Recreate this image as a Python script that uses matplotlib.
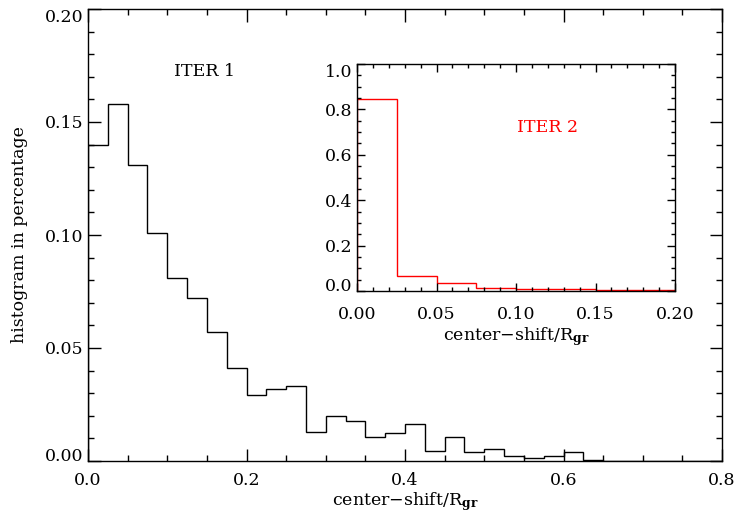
import numpy as np
import matplotlib
matplotlib.use("Agg")
import matplotlib.pyplot as plt
from matplotlib.ticker import MultipleLocator, FormatStrFormatter

plt.rcParams['font.family'] = ['DejaVu Serif']
plt.rcParams['mathtext.fontset'] = 'dejavuserif'

# ---- data ----
bin_width = 0.025
iter1_values = [0.140, 0.158, 0.131, 0.101, 0.081, 0.072, 0.057, 0.041,
                0.029, 0.032, 0.033, 0.013, 0.020, 0.0176, 0.0107, 0.0125,
                0.0163, 0.0046, 0.0107, 0.0038, 0.0053, 0.0022, 0.0013, 0.0022,
                0.0038, 0.0006, 0.0, 0.0, 0.0, 0.0, 0.0, 0.0]
iter2_values = [0.846, 0.068, 0.034, 0.013, 0.010, 0.009, 0.006, 0.004]
main_xticks = [0.0, 0.2, 0.4, 0.6, 0.8]
main_yticks = [0.00, 0.05, 0.10, 0.15, 0.20]
inset_xticks = [0.00, 0.05, 0.10, 0.15, 0.20]
inset_yticks = [0.0, 0.2, 0.4, 0.6, 0.8, 1.0]

edges1 = np.arange(len(iter1_values) + 1) * bin_width
edges2 = np.arange(len(iter2_values) + 1) * bin_width

FS = 12.5
fig = plt.figure(figsize=(7.40, 5.23), dpi=100)

# ---- main axes ----
ax = fig.add_axes([88/740, (523-461)/523, 634/740, 452/523])
ax.stairs(iter1_values, edges1, color='black', lw=1.0, baseline=None)
ax.plot([0, 0], [0, iter1_values[0]], color='black', lw=1.0)
ax.set_xlim(0, 0.8)
ax.set_ylim(0, 0.20)
ax.set_xticks(main_xticks)
ax.set_yticks(main_yticks)
ax.xaxis.set_minor_locator(MultipleLocator(0.05))
ax.yaxis.set_minor_locator(MultipleLocator(0.01))
ax.xaxis.set_major_formatter(FormatStrFormatter('%.1f'))
ax.yaxis.set_major_formatter(FormatStrFormatter('%.2f'))
ax.tick_params(which='both', direction='in', top=True, right=True, width=1.0)
ax.tick_params(which='major', length=9)
ax.tick_params(which='minor', length=4.5)
ax.tick_params(axis='x', which='major', pad=8, labelsize=FS)
ax.tick_params(axis='y', which='major', pad=3.5, labelsize=FS)
for s in ax.spines.values():
    s.set_linewidth(1.0)
ylabs = ax.get_yticklabels()
ylabs[0].set_va('baseline')
ylabs[-1].set_va('top')
ax.set_ylabel('histogram in percentage', fontsize=FS)
ax.yaxis.set_label_coords(-0.094, 0.5)
ax.set_xlabel(r'center$-$shift/R$_{\mathbf{gr}}$', fontsize=FS)
ax.xaxis.set_label_coords(0.5, -0.065)
fig.text(205/740, 1 - 72/523, 'ITER 1', fontsize=FS, color='black',
         ha='center', va='center')

# ---- inset axes ----
ins = fig.add_axes([357/740, (523-291)/523, 318/740, 227/523])
ins.stairs(iter2_values, edges2, color='red', lw=1.0, baseline=None)
ins.plot([0, 0], [0, iter2_values[0]], color='red', lw=1.0)
ins.set_xlim(0, 0.2)
ins.set_ylim(0, 1.0)
ins.set_xticks(inset_xticks)
ins.set_yticks(inset_yticks)
ins.xaxis.set_minor_locator(MultipleLocator(0.01))
ins.yaxis.set_minor_locator(MultipleLocator(0.05))
ins.xaxis.set_major_formatter(FormatStrFormatter('%.2f'))
ins.yaxis.set_major_formatter(FormatStrFormatter('%.1f'))
ins.tick_params(which='both', direction='in', top=True, right=True, width=1.0)
ins.tick_params(which='major', length=6)
ins.tick_params(which='minor', length=3)
ins.tick_params(axis='x', which='major', pad=10.5, labelsize=FS)
ins.tick_params(axis='y', which='major', pad=3.5, labelsize=FS)
for s in ins.spines.values():
    s.set_linewidth(1.0)
ylabs2 = ins.get_yticklabels()
ylabs2[0].set_va('baseline')
ylabs2[-1].set_va('top')
ins.set_xlabel(r'center$-$shift/R$_{\mathbf{gr}}$', fontsize=FS)
ins.xaxis.set_label_coords(0.5, -0.152)
fig.text(548/740, 1 - 127/523, 'ITER 2', fontsize=FS, color='red',
         ha='center', va='center')

fig.savefig('out.png', dpi=100)
